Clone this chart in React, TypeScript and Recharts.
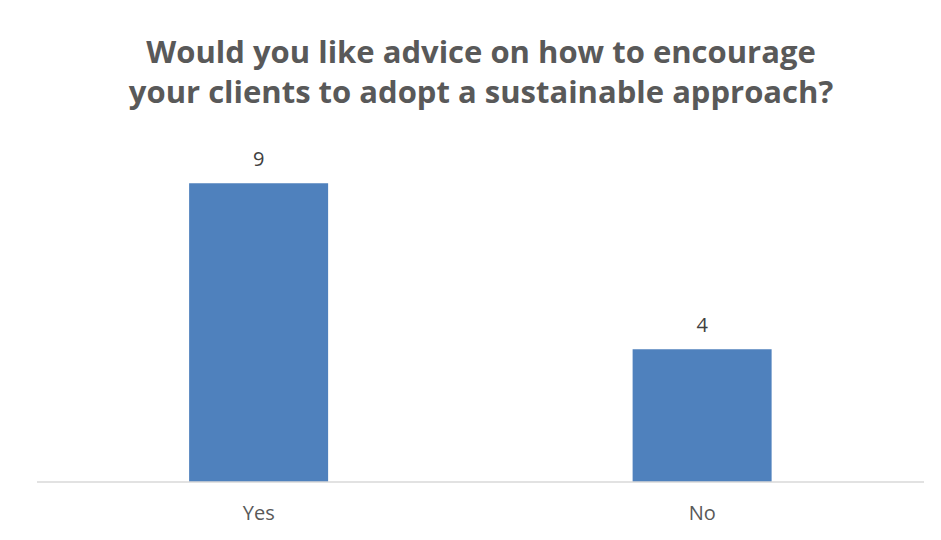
import React from "react";
import { BarChart, Bar, XAxis, YAxis, LabelList } from "recharts";

const categories = ["Yes", "No"];
const responses = [9, 4];
const titleLines = [
  "Would you like advice on how to encourage",
  "your clients to adopt a sustainable approach?",
];

const data = categories.map((c, i) => ({ name: c, value: responses[i] }));

const FONT = "'Open Sans', 'Liberation Sans', sans-serif";

export default function App() {
  return (
    <div
      style={{
        position: "relative",
        width: 941,
        height: 540,
        marginLeft: -8,
        marginTop: -8,
        overflow: "hidden",
        background: "#fff",
        fontFamily: FONT,
      }}
    >
      <div
        style={{
          position: "absolute",
          left: 0,
          top: 31,
          width: 962,
          textAlign: "center",
          fontWeight: 700,
          fontSize: 31,
          lineHeight: "40px",
          color: "#595959",
        }}
      >
        {titleLines.map((l) => (
          <div key={l}>{l}</div>
        ))}
      </div>
      <div style={{ position: "absolute", left: 0, top: 0 }}>
        <BarChart
          width={941}
          height={540}
          data={data}
          margin={{ top: 150, right: 17, bottom: 28, left: 37 }}
          barCategoryGap="34.3%"
        >
          <XAxis
            dataKey="name"
            axisLine={{ stroke: "#d9d9d9", strokeWidth: 1.5 }}
            tickLine={false}
            tickMargin={18}
            tick={{ fill: "#595959", fontSize: 20, fontFamily: FONT }}
          />
          <YAxis hide domain={[0, 10]} />
          <Bar dataKey="value" fill="#4f81bd" isAnimationActive={false}>
            <LabelList
              dataKey="value"
              position="top"
              offset={17}
              fill="#404040"
              fontSize={20}
              fontFamily={FONT}
            />
          </Bar>
        </BarChart>
      </div>
      <div
        style={{
          position: "absolute",
          left: 6,
          top: 6,
          width: 960,
          height: 560,
          boxSizing: "border-box",
          borderLeft: "2px solid #d9d9d9",
          borderTop: "2px solid #d9d9d9",
          pointerEvents: "none",
          zIndex: 5,
        }}
      />
    </div>
  );
}
